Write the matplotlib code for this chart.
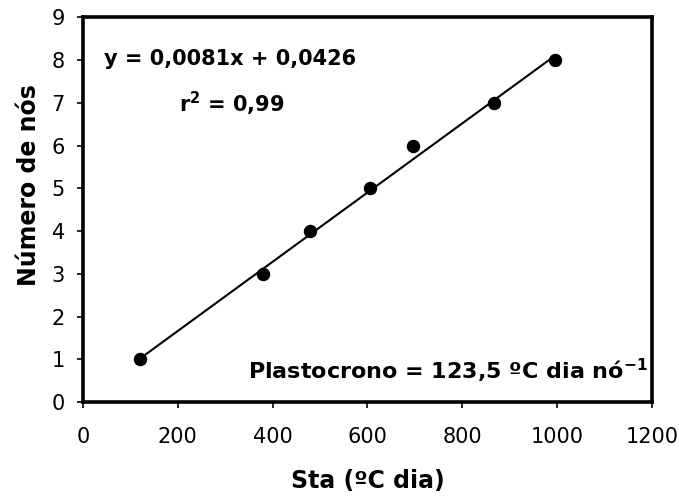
import numpy as np
import matplotlib
matplotlib.use('Agg')
import matplotlib.pyplot as plt

plt.rcParams['font.family'] = ['DejaVu Sans']

## data
sta = [120, 380, 478, 605, 697, 866, 996]
nos = [1, 3, 4, 5, 6, 7, 8]

slope = 0.0081
intercept = 0.0426

fig = plt.figure(figsize=(6.79, 5), dpi=100)
ax = fig.add_axes([0.1222, 0.196, 0.838, 0.769])

x_line = np.array([min(sta), max(sta)])
ax.plot(x_line, slope * x_line + intercept, color='black', lw=1.5, zorder=2)
ax.scatter(sta, nos, s=75, color='black', zorder=3)

ax.set_xlim(0, 1200)
ax.set_ylim(0, 9)
ax.set_xticks(range(0, 1201, 200))
ax.set_yticks(range(0, 10))

for s in ax.spines.values():
    s.set_linewidth(2.6)
ax.tick_params(direction='out', length=4, width=1.2, labelsize=15)
ax.tick_params(axis='x', pad=14)
ax.tick_params(axis='y', pad=9)

ax.set_xlabel('Sta (ºC dia)', fontsize=17, fontweight='bold', labelpad=16)
ax.set_ylabel('Número de nós', fontsize=17, fontweight='bold')
ax.yaxis.set_label_coords(-0.074, 0.565)

ax.text(0.258, 0.892, 'y = 0,0081x + 0,0426', transform=ax.transAxes,
        fontsize=15, fontweight='bold', ha='center', va='center')
ax.text(0.262, 0.774, r'r$^\mathbf{2}$ = 0,99', transform=ax.transAxes,
        fontsize=15, fontweight='bold', ha='center', va='center')
ax.text(0.993, 0.08, r'Plastocrono = 123,5 ºC dia nó$^\mathbf{-1}$', transform=ax.transAxes,
        fontsize=16, fontweight='bold', ha='right', va='center')

plt.savefig('out.png', dpi=100)
